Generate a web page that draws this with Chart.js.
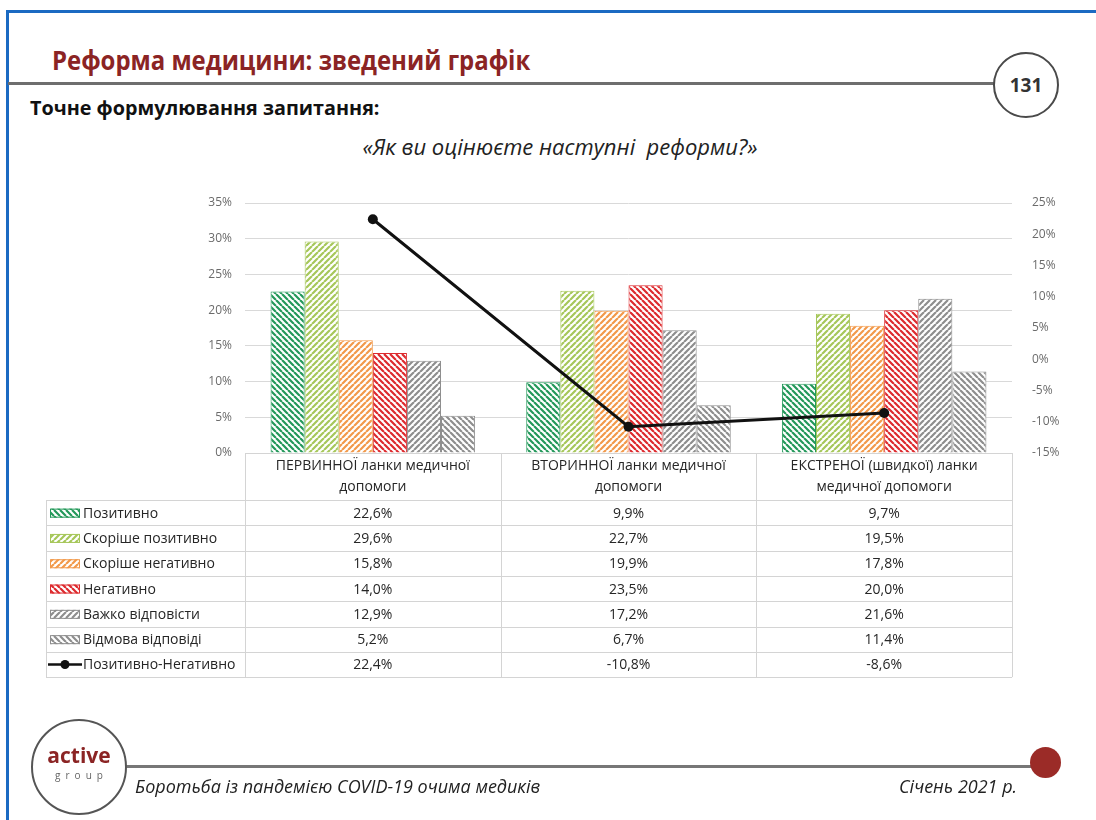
<!DOCTYPE html>
<html lang="uk">
<head>
<meta charset="utf-8">
<title>Реформа медицини: зведений графік</title>
<script src="https://cdn.jsdelivr.net/npm/chart.js@4/dist/chart.umd.min.js"></script>
<style>
  body { margin: 0; background: #fff; }
  #page { position: relative; width: 1096px; height: 820px; overflow: hidden; font-family: "Open Sans", sans-serif; }
  #page canvas { position: absolute; left: 0; top: 0; }
  .frame { position: absolute; left: 6px; top: 10px; width: 1200px; height: 900px; border-top: 3px solid #1b6ac2; border-left: 3px solid #1b6ac2; }
  .title { position: absolute; left: 52px; top: 42px; font-size: 26px; font-weight: 700; color: #8b2424; white-space: nowrap; transform: scaleX(0.92); transform-origin: left; }
  .rule-top { position: absolute; left: 8px; top: 82px; width: 986px; height: 3px; background: #6e6e6e; }
  .pagenum { position: absolute; left: 993px; top: 52px; width: 62px; height: 62px; border: 2.5px solid #4a4a4a; border-radius: 50%; font-size: 19px; font-weight: 700; color: #333; text-align: center; line-height: 62px; background: #fff; }
  .question { position: absolute; left: 30px; top: 94px; font-size: 19.8px; font-weight: 700; color: #111; white-space: nowrap; }
  .subtitle { position: absolute; left: 0; width: 1120px; top: 131px; text-align: center; font-size: 22px; font-style: italic; color: #222; white-space: pre; }
  .logo { position: absolute; left: 31px; top: 719px; width: 92px; height: 92px; border: 2px solid #555; border-radius: 50%; background: #fff; text-align: center; }
  .logo .a { position: absolute; left: 0; right: 0; top: 22px; font-size: 21px; font-weight: 700; color: #8b2424; line-height: 24px; }
  .logo .g { position: absolute; left: 0; right: 0; top: 47px; font-size: 10px; color: #666; letter-spacing: 5px; padding-left: 5px; }
  .rule-bottom { position: absolute; left: 125px; top: 765px; width: 910px; height: 3px; background: #777; }
  .dot { position: absolute; left: 1030px; top: 747px; width: 31px; height: 31px; border-radius: 50%; background: #9b2b27; }
  .foot { position: absolute; top: 774px; font-size: 18px; font-style: italic; color: #222; white-space: nowrap; }
</style>
</head>
<body>
<div id="page">
  <div class="frame"></div>
  <div class="title">Реформа медицини: зведений графік</div>
  <div class="rule-top"></div>
  <div class="pagenum">131</div>
  <div class="question">Точне формулювання запитання:</div>
  <div class="subtitle">«Як ви оцінюєте наступні  реформи?»</div>
  <canvas id="chart" width="1096" height="820"></canvas>
  <div class="rule-bottom"></div>
  <div class="logo"><div class="a">active</div><div class="g">group</div></div>
  <div class="dot"></div>
  <div class="foot" style="left:135px">Боротьба із пандемією COVID-19 очима медиків</div>
  <div class="foot" style="left:899px">Січень 2021 р.</div>
</div>
<script>
// Data
const categories = [
  ["ПЕРВИННОЇ ланки медичної", "допомоги"],
  ["ВТОРИННОЇ ланки медичної", "допомоги"],
  ["ЕКСТРЕНОЇ (швидкої) ланки", "медичної допомоги"]
];
const positive = [22.6, 9.9, 9.7];
const ratherPositive = [29.6, 22.7, 19.5];
const ratherNegative = [15.8, 19.9, 17.8];
const negative = [14.0, 23.5, 20.0];
const hardToSay = [12.9, 17.2, 21.6];
const refused = [5.2, 6.7, 11.4];
const balance = [22.4, -10.8, -8.6];

const leftTicks = [0, 5, 10, 15, 20, 25, 30, 35];
const rightTicks = [-15, -10, -5, 0, 5, 10, 15, 20, 25];

// hatch fill: "\" goes top-left to bottom-right, "/" the other way
function hatch(color, dir) {
  const s = 6;
  const c = document.createElement("canvas");
  c.width = s; c.height = s;
  const g = c.getContext("2d");
  g.fillStyle = "#fff";
  g.fillRect(0, 0, s, s);
  g.strokeStyle = color;
  g.lineWidth = 2.2;
  g.beginPath();
  for (let i = -1; i <= 1; i++) {
    if (dir === "\\") { g.moveTo(i * s, 0); g.lineTo(i * s + s, s); }
    else { g.moveTo(i * s, s); g.lineTo(i * s + s, 0); }
  }
  g.stroke();
  return g.createPattern(c, "repeat");
}

const fmt = v => v.toFixed(1).replace(".", ",") + "%";

function barSet(label, data, color, dir) {
  return {
    type: "bar", label, data, order: 1, yAxisID: "y",
    backgroundColor: hatch(color, dir), borderColor: color, borderWidth: 1,
    categoryPercentage: 0.8, barPercentage: 1, _color: color
  };
}

const datasets = [
  barSet("Позитивно", positive, "#23985a", "\\"),
  barSet("Скоріше позитивно", ratherPositive, "#a6c75a", "/"),
  barSet("Скоріше негативно", ratherNegative, "#f2994a", "/"),
  barSet("Негативно", negative, "#dd2a2e", "\\"),
  barSet("Важко відповісти", hardToSay, "#8e8e8e", "/"),
  barSet("Відмова відповіді", refused, "#8e8e8e", "\\"),
  {
    type: "line", label: "Позитивно-Негативно", data: balance, order: 0, yAxisID: "y2",
    borderColor: "#111", backgroundColor: "#111", borderWidth: 3,
    pointRadius: 5, pointBackgroundColor: "#111", pointBorderWidth: 0
  }
];

// data table under the plot, aligned with the category scale
const tablePlugin = {
  id: "dataTable",
  afterDraw(chart) {
    const { ctx, chartArea, scales } = chart;
    const x = scales.x;
    const half = (x.getPixelForValue(1) - x.getPixelForValue(0)) / 2;
    const left = chartArea.left, right = chartArea.right;
    const headTop = chartArea.bottom, headBottom = 500, rowH = 25.3, legLeft = 46;
    const rows = datasets.length;
    const bottom = headBottom + rows * rowH;

    ctx.save();
    ctx.strokeStyle = "#d4d4d4";
    ctx.lineWidth = 1;
    ctx.beginPath();
    ctx.moveTo(left, headTop + 0.5); ctx.lineTo(right, headTop + 0.5);
    for (let r = 0; r <= rows; r++) {
      const y = Math.round(headBottom + r * rowH) + 0.5;
      ctx.moveTo(legLeft, y); ctx.lineTo(right, y);
    }
    ctx.moveTo(legLeft + 0.5, headBottom); ctx.lineTo(legLeft + 0.5, bottom);
    categories.forEach((c, i) => {
      const xl = Math.round(x.getPixelForValue(i) - half) + 0.5;
      ctx.moveTo(xl, headTop); ctx.lineTo(xl, bottom);
    });
    ctx.moveTo(Math.round(right) + 0.5, headTop); ctx.lineTo(Math.round(right) + 0.5, bottom);
    ctx.stroke();

    ctx.fillStyle = "#262626";
    ctx.font = "14px 'Open Sans', sans-serif";
    ctx.textAlign = "center";
    ctx.textBaseline = "middle";
    categories.forEach((c, i) => {
      const cx = x.getPixelForValue(i);
      ctx.fillText(c[0], cx, headTop + 13);
      ctx.fillText(c[1], cx, headTop + 34);
    });

    datasets.forEach((ds, r) => {
      const cy = headBottom + r * rowH + rowH / 2;
      ds.data.forEach((v, i) => {
        ctx.textAlign = "center";
        ctx.fillText(fmt(v), x.getPixelForValue(i), cy + 1);
      });
      // legend key
      if (ds.type === "bar") {
        ctx.fillStyle = ds.backgroundColor;
        ctx.fillRect(50, cy - 4, 30, 9);
        ctx.strokeStyle = ds._color;
        ctx.strokeRect(50.5, cy - 3.5, 29, 8);
      } else {
        ctx.strokeStyle = "#111";
        ctx.lineWidth = 2.5;
        ctx.beginPath(); ctx.moveTo(48, cy); ctx.lineTo(82, cy); ctx.stroke();
        ctx.fillStyle = "#111";
        ctx.beginPath(); ctx.arc(65, cy, 4.5, 0, Math.PI * 2); ctx.fill();
      }
      ctx.fillStyle = "#262626";
      ctx.textAlign = "left";
      ctx.fillText(ds.label, 83, cy + 1);
    });
    ctx.restore();
  }
};

const tickFont = { family: "'Open Sans', sans-serif", size: 12 };

new Chart(document.getElementById("chart"), {
  data: { labels: categories.map(c => c.join(" ")), datasets },
  options: {
    responsive: false,
    animation: false,
    layout: { padding: { left: 180, right: 24, top: 203, bottom: 367 } },
    plugins: { legend: { display: false }, tooltip: { enabled: false } },
    scales: {
      x: { display: false, offset: true },
      y: {
        position: "left", min: 0, max: 35,
        afterFit: s => { s.width = 65; },
        afterBuildTicks: s => { s.ticks = leftTicks.map(v => ({ value: v })); },
        grid: { color: "#d9d9d9", drawTicks: false },
        border: { display: false },
        ticks: { padding: 13, color: "#6b6b6b", font: tickFont, callback: v => v + "%" }
      },
      y2: {
        position: "right", min: -15, max: 25,
        afterFit: s => { s.width = 60; },
        afterBuildTicks: s => { s.ticks = rightTicks.map(v => ({ value: v })); },
        grid: { display: false },
        border: { display: false },
        ticks: { padding: 12, color: "#6b6b6b", font: tickFont, callback: v => v + "%" }
      }
    }
  },
  plugins: [tablePlugin]
});
</script>
</body>
</html>
